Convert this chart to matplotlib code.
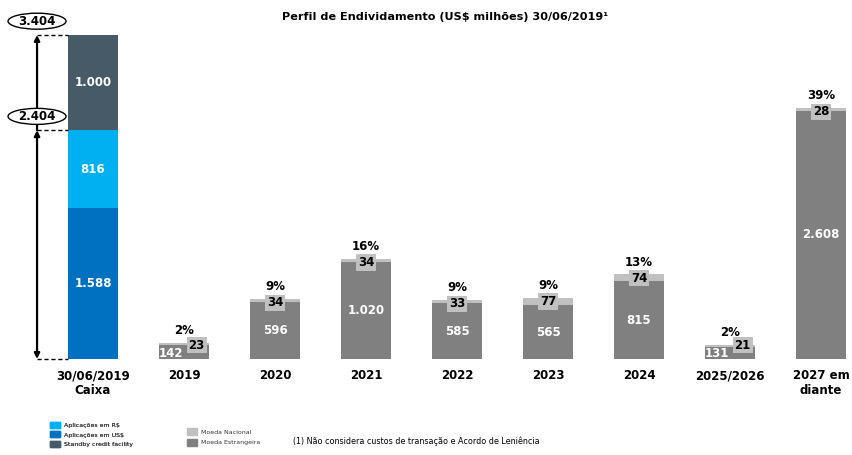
import matplotlib
matplotlib.use("Agg")
import matplotlib.pyplot as plt
from matplotlib.patches import Patch, Ellipse

# dados (US$ milhões)
caixa_vals = [1588, 816, 1000]          # de baixo para cima: US$, R$, standby
caixa_cores = ["#0070C0", "#00B0F0", "#465B67"]
caixa_txt = ["1.588", "816", "1.000"]

anos = ["2019", "2020", "2021", "2022", "2023", "2024", "2025/2026", "2027 em\ndiante"]
estrangeira = [142, 596, 1020, 585, 565, 815, 131, 2608]
nacional = [23, 34, 34, 33, 77, 74, 21, 28]
estr_txt = ["142", "596", "1.020", "585", "565", "815", "131", "2.608"]
pct = ["2%", "9%", "16%", "9%", "9%", "13%", "2%", "39%"]

cor_estr = "#808080"
cor_nac = "#C0C0C0"

s = 324 / 3404  # px por unidade
fig = plt.figure(figsize=(8.52, 4.55), dpi=100)
ax = fig.add_axes([0, 0, 1, 1])
ax.set_xlim(-93 / 91, (852 - 93) / 91)
ax.set_ylim(-96 / s, 359 / s)
ax.axis("off")

w = 0.55
fs = 8.5

# barra de caixa
base = 0
for v, c, t in zip(caixa_vals, caixa_cores, caixa_txt):
    ax.bar(0, v, w, bottom=base, color=c)
    ax.text(0, base + v / 2, t, color="white", fontsize=fs, fontweight="bold",
            ha="center", va="center")
    base += v

# setas e totais
xa = -0.615
tot1 = caixa_vals[0] + caixa_vals[1]
tot2 = tot1 + caixa_vals[2]
for lv in [0, tot1, tot2]:
    ax.plot([xa, -w / 2], [lv, lv], color="black", lw=1, ls=(0, (3, 2)))
ax.annotate("", xy=(xa, 0), xytext=(xa, tot1),
            arrowprops=dict(arrowstyle="<|-|>", lw=1.6, color="black",
                            shrinkA=0, shrinkB=0, mutation_scale=8))
ax.annotate("", xy=(xa, tot2), xytext=(xa, tot1),
            arrowprops=dict(arrowstyle="-|>", lw=1.6, color="black",
                            shrinkA=0, shrinkB=0, mutation_scale=8))
for lv, t in [(tot1, "2.404"), (tot2, "3.404")]:
    ax.add_patch(Ellipse((xa, lv + 145), 58 / 91, 16 / s, fc="white",
                         ec="black", lw=1, zorder=4))
    ax.text(xa, lv + 145, t, fontsize=fs, fontweight="bold", ha="center",
            va="center", zorder=5)

# barras de dívida
for i, (e, n) in enumerate(zip(estrangeira, nacional)):
    x = i + 1
    ax.bar(x, e, w, color=cor_estr)
    ax.bar(x, n, w, bottom=e, color=cor_nac)
    tot = e + n
    if tot < 300:
        ax.text(x - 0.14, 60, estr_txt[i], color="white", fontsize=fs,
                fontweight="bold", ha="center", va="center")
        ax.text(x + 0.14, 147, str(n), color="black", fontsize=fs, fontweight="bold",
                ha="center", va="center",
                bbox=dict(boxstyle="square,pad=0.15", fc=cor_nac, ec="none"))
    else:
        ax.text(x, e / 2, estr_txt[i], color="white", fontsize=fs,
                fontweight="bold", ha="center", va="center")
        ax.text(x, tot - 40, str(n), color="black", fontsize=fs, fontweight="bold",
                ha="center", va="center",
                bbox=dict(boxstyle="square,pad=0.15", fc=cor_nac, ec="none"))
    ax.text(x, tot + 130, pct[i], color="black", fontsize=fs, fontweight="bold",
            ha="center", va="center")

# rótulos das categorias
ax.text(0, -110, "30/06/2019\nCaixa", fontsize=fs, fontweight="bold",
        ha="center", va="top", linespacing=1.15)
for i, a in enumerate(anos):
    ax.text(i + 1, -110, a, fontsize=fs, fontweight="bold",
            ha="center", va="top", linespacing=1.15)

# título
fig.text(445 / 852, 1 - 17 / 455, "Perfil de Endividamento (US$ milhões) 30/06/2019¹",
         fontsize=8.1, fontweight="bold", ha="center", va="center")

# legendas
h1 = [Patch(color=c) for c in ["#00B0F0", "#0070C0", "#465B67"]]
leg1 = fig.legend(h1, ["Aplicações em R$", "Aplicações em US$", "Standby credit facility"],
                  loc="upper left", bbox_to_anchor=(47 / 852, 1 - 419 / 455),
                  frameon=False, fontsize=4.5, handlelength=1.6, handleheight=1.1,
                  labelspacing=0.5, handletextpad=0.6, borderpad=0, labelcolor="#333333")
h2 = [Patch(color=c) for c in [cor_nac, cor_estr]]
fig.legend(h2, ["Moeda Nacional", "Moeda Estrangeira"],
           loc="upper left", bbox_to_anchor=(184 / 852, 1 - 425 / 455),
           frameon=False, fontsize=4.5, handlelength=1.6, handleheight=1.3,
           labelspacing=0.6, handletextpad=0.6, borderpad=0, labelcolor="#333333")
fig.add_artist(leg1)

fig.text(293 / 852, 1 - 441 / 455,
         "(1) Não considera custos de transação e Acordo de Leniência",
         fontsize=5.8, ha="left", va="center")

fig.savefig("out.png", dpi=100)
